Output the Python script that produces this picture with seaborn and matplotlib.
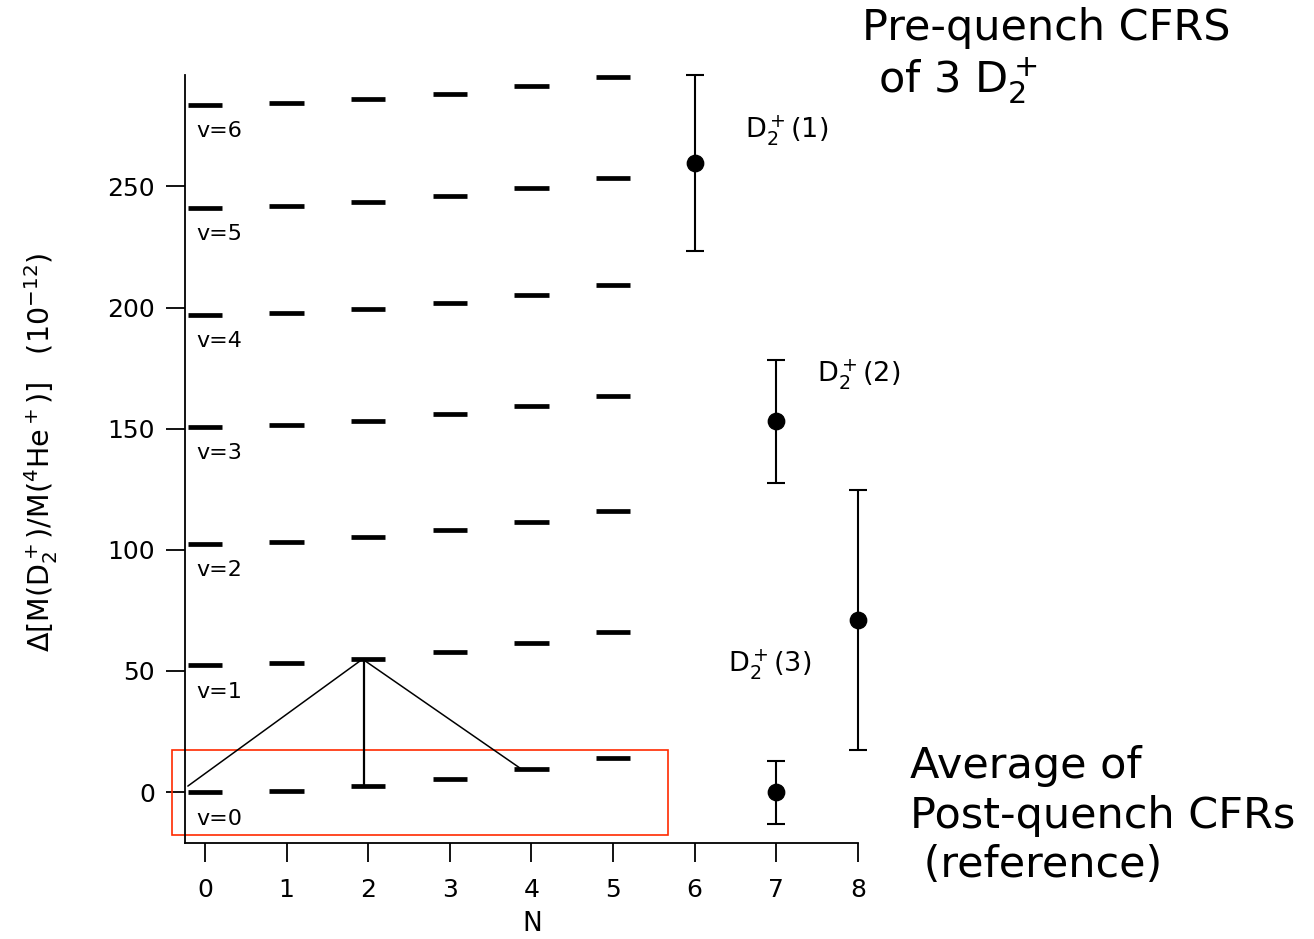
import numpy as np
import pandas as pd
import matplotlib
matplotlib.use("Agg")
import matplotlib.pyplot as plt
import seaborn as sns

# rovibrational levels of D2+ (units of 1e-12), N = 0..5
N_levels = [0, 1, 2, 3, 4, 5]
v0 = [0.0, 0.5, 2.5, 5.4, 9.4, 14.1]
v1 = [52.3, 53.1, 54.9, 57.8, 61.5, 66.1]
v2 = [102.6, 103.4, 105.2, 108.0, 111.5, 116.0]
v3 = [150.9, 151.7, 153.3, 155.9, 159.4, 163.7]
v4 = [197.1, 197.7, 199.4, 201.9, 205.3, 209.4]
v5 = [241.3, 242.1, 243.6, 246.1, 249.4, 253.3]
v6 = [283.7, 284.4, 285.9, 288.1, 291.3, 295.1]
v_names = ["v=0", "v=1", "v=2", "v=3", "v=4", "v=5", "v=6"]

# measured points
meas_N = [6, 7, 8, 7]
meas_y = [259.5, 153.0, 71.0, 0.0]
meas_err = [36.3, 25.2, 53.5, 13.0]
meas_labels = [r"D$_2^+$(1)", r"D$_2^+$(2)", r"D$_2^+$(3)"]
meas_label_pos = [(6.62, 273.0), (7.5, 172.0), (6.41, 52.4)]

# transition sketch
path_N = [-0.21, 1.93, 3.86]
path_y = [2.5, 54.9, 9.9]
trans_N = 1.95
trans_y = [2.5, 54.9]

levels = pd.DataFrame({"N": N_levels * 7,
                       "v": np.repeat(np.arange(7), 6),
                       "y": v0 + v1 + v2 + v3 + v4 + v5 + v6})
points = pd.DataFrame({"N": meas_N, "y": meas_y, "err": meas_err})

sns.set_style("ticks")
plt.rcParams["font.family"] = ["DejaVu Sans"]
plt.rcParams["mathtext.default"] = "regular"
for k in ["text.color", "axes.labelcolor", "xtick.color", "ytick.color", "axes.edgecolor"]:
    plt.rcParams[k] = "black"

fig = plt.figure(figsize=(13.14, 9.39), dpi=100)
ax = fig.add_axes([185 / 1314, 1 - 843 / 939, 673 / 1314, 768 / 939])

half = 0.21
ax.hlines(levels["y"], levels["N"] - half, levels["N"] + half, color="black", lw=3.4)

for i, name in enumerate(v_names):
    ax.text(-0.11, levels.loc[(levels.v == i) & (levels.N == 0), "y"].iloc[0] - 11, name,
            fontsize=16, ha="left", va="center")

ax.plot(path_N, path_y, color="black", lw=1.1)
ax.plot([trans_N, trans_N], trans_y, color="black", lw=1.6)

ax.errorbar(points["N"], points["y"], yerr=points["err"], fmt="none", ecolor="black",
            elinewidth=1.5, capsize=6.5, capthick=1.5, clip_on=False)
sns.scatterplot(data=points, x="N", y="y", color="black", s=140, edgecolor="black",
                ax=ax, clip_on=False, zorder=5, legend=False)

for lab, (px, py) in zip(meas_labels, meas_label_pos):
    ax.text(px, py, lab, fontsize=19.5, ha="left", va="center")

ax.add_patch(plt.Rectangle((-0.41, -17.5), 6.08, 35, fill=False, edgecolor="#ff2a00",
                           lw=1.2, clip_on=False))

ax.set_xlim(-0.245, 8)
ax.set_ylim(-21, 296)
ax.set_xticks(range(9))
ax.set_yticks([0, 50, 100, 150, 200, 250])
sns.despine(ax=ax)
for s in ["left", "bottom"]:
    ax.spines[s].set_linewidth(1.3)
ax.tick_params(axis="both", direction="out", length=13.5, width=1.3, labelsize=18)
ax.tick_params(axis="x", pad=12)
ax.tick_params(axis="y", pad=8)

ax.set_xlabel("N", fontsize=19, va="top")
ax.xaxis.set_label_coords(0.5156, -0.089)
ax.set_ylabel(r"$\Delta$[M(D$_2^+$)/M($^4$He$^+$)]   (10$^{-12}$)", fontsize=20.5)
ax.yaxis.set_label_coords(-0.185, 0.509)

big = 31
fig.text(862 / 1314, 1 - 40 / 939, "Pre-quench CFRS", fontsize=big, va="baseline")
fig.text(878 / 1314, 1 - 92 / 939, r"of 3 D$_2^+$", fontsize=big, va="baseline")
fig.text(910 / 1314, 1 - 778 / 939, "Average of", fontsize=big, va="baseline")
fig.text(910 / 1314, 1 - 828 / 939, "Post-quench CFRs", fontsize=big, va="baseline")
fig.text(910 / 1314, 1 - 877 / 939, " (reference)", fontsize=big, va="baseline")

fig.savefig("out.png", dpi=100)
